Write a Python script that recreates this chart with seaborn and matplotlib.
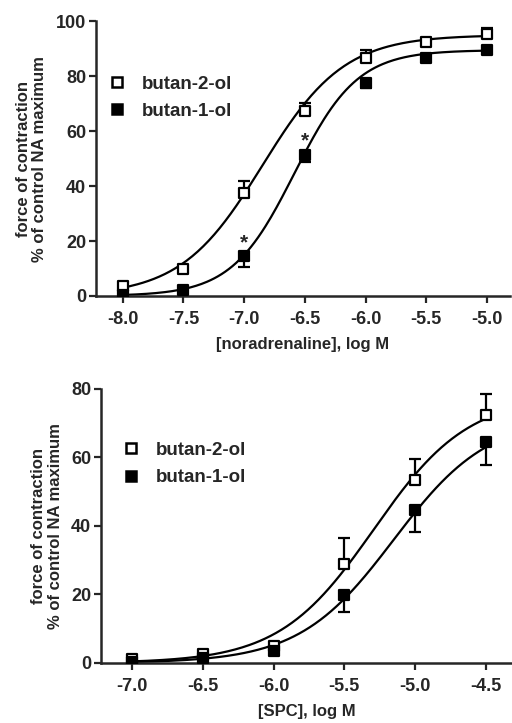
import numpy as np
import pandas as pd
import matplotlib
matplotlib.use("Agg")
import matplotlib.pyplot as plt
import seaborn as sns

sns.set_style("ticks")
plt.rcParams['font.family'] = ['Liberation Sans', 'DejaVu Sans']
plt.rcParams['font.weight'] = 'bold'

# ---- Panel A: noradrenaline ----
na_logM = [-8.0, -7.5, -7.0, -6.5, -6.0, -5.5, -5.0]
na_b2_mean = [3.5, 10.0, 37.5, 67.5, 86.8, 92.5, 95.3]
na_b2_err = [1.0, 1.0, 4.3, 2.8, 2.6, 1.5, 2.2]
na_b1_mean = [0.4, 2.2, 14.6, 51.3, 77.6, 86.7, 89.6]
na_b1_err = [0.5, 0.8, 4.0, 2.7, 2.0, 1.3, 1.0]
# fitted sigmoid parameters (bottom, top, logEC50, hill slope)
na_b2_fit = [0.0, 95.0, -6.85, 1.29]
na_b1_fit = [0.0, 89.5, -6.585, 1.68]
na_stars_x = [-7.0, -6.5]
na_stars_y = [19.5, 56.5]
na_yticks = [0, 20, 40, 60, 80, 100]
na_xticks = [-8.0, -7.5, -7.0, -6.5, -6.0, -5.5, -5.0]

# ---- Panel B: SPC ----
spc_logM = [-7.0, -6.5, -6.0, -5.5, -5.0, -4.5]
spc_b2_mean = [1.2, 2.6, 4.9, 28.8, 53.4, 72.5]
spc_b2_err = [0.5, 0.8, 1.0, 7.8, 6.2, 6.0]
spc_b1_mean = [0.2, 1.6, 3.6, 19.9, 44.7, 64.5]
spc_b1_err = [0.3, 0.5, 0.8, 5.1, 6.4, 6.6]
spc_b2_fit = [0.0, 78.0, -5.292, 1.3]
spc_b1_fit = [0.0, 72.0, -5.151, 1.3]
spc_yticks = [0, 20, 40, 60, 80]
spc_xticks = [-7.0, -6.5, -6.0, -5.5, -5.0, -4.5]

labels = ["butan-2-ol", "butan-1-ol"]
ylabel = "force of contraction\n% of control NA maximum"

TICK_FS = 13
LEG_FS = 13.5
LAB_FS = 12

fig = plt.figure(figsize=(5.12, 7.23), dpi=100)
axA = fig.add_axes([0.187, 0.5906, 0.809, 0.3800])
axB = fig.add_axes([0.197, 0.0830, 0.803, 0.3790])


def hill(x, p):
    b, t, e, h = p
    return b + (t - b) / (1 + 10 ** (h * (e - x)))


def panel(ax, xs, m2, e2, m1, e1, f2, f1, xlim, ylim, xticks, yticks, xlabel, legpos):
    xx = np.linspace(xs[0], xs[-1], 200)
    curves = pd.DataFrame({
        "x": np.concatenate([xx, xx]),
        "y": np.concatenate([hill(xx, f2), hill(xx, f1)]),
        "s": [labels[0]] * len(xx) + [labels[1]] * len(xx),
    })
    sns.lineplot(data=curves, x="x", y="y", units="s", estimator=None,
                 color="black", lw=1.6, ax=ax, legend=False, zorder=2)
    # one-sided error bars: up for open, down for filled
    ax.errorbar(xs, m2, yerr=[np.zeros(len(e2)), e2], fmt="none", ecolor="black",
                elinewidth=1.6, capsize=4, capthick=1.6, zorder=3)
    ax.errorbar(xs, m1, yerr=[e1, np.zeros(len(e1))], fmt="none", ecolor="black",
                elinewidth=1.6, capsize=4, capthick=1.6, zorder=3)
    pts = pd.DataFrame({"x": list(xs) + list(xs), "y": list(m2) + list(m1),
                        "s": [labels[0]] * len(xs) + [labels[1]] * len(xs)})
    sns.scatterplot(data=pts[pts.s == labels[0]], x="x", y="y", marker="s", s=55,
                    facecolor="white", edgecolor="black", linewidth=1.6, ax=ax, zorder=4)
    sns.scatterplot(data=pts[pts.s == labels[1]], x="x", y="y", marker="s", s=55,
                    facecolor="black", edgecolor="black", linewidth=1.6, ax=ax, zorder=5)
    ax.set_xlim(*xlim)
    ax.set_ylim(*ylim)
    ax.set_xticks(xticks)
    ax.set_xticklabels([f"{v:.1f}" for v in xticks], fontsize=TICK_FS, fontweight="bold")
    ax.set_yticks(yticks)
    ax.set_yticklabels([str(v) for v in yticks], fontsize=TICK_FS, fontweight="bold")
    ax.set_xlabel(xlabel, fontsize=LAB_FS, fontweight="bold", labelpad=6)
    ax.set_ylabel(ylabel, fontsize=LAB_FS, fontweight="bold", labelpad=6, linespacing=1.15)
    ax.tick_params(axis="x", direction="out", length=5, width=1.6, pad=6)
    ax.tick_params(axis="y", direction="out", length=5, width=1.6, pad=2)
    for side in ["left", "bottom"]:
        ax.spines[side].set_linewidth(1.8)
    sns.despine(ax=ax)
    ax.spines["left"].set_bounds(ylim[0], yticks[-1])
    # legend
    h_open = plt.Line2D([], [], marker="s", ls="none", ms=6.5, mfc="white", mec="black", mew=1.8)
    h_fill = plt.Line2D([], [], marker="s", ls="none", ms=6.5, mfc="black", mec="black", mew=1.8)
    ax.legend([h_open, h_fill], labels, loc="upper left", bbox_to_anchor=legpos,
              frameon=False, prop={"size": LEG_FS, "weight": "bold"},
              handletextpad=0.8, labelspacing=0.55, borderaxespad=0, handlelength=1.0)


panel(axA, na_logM, na_b2_mean, na_b2_err, na_b1_mean, na_b1_err, na_b2_fit, na_b1_fit,
      (-8.223, -4.81), (0, 100), na_xticks, na_yticks, "[noradrenaline], log M", (0.011, 0.83))
for sx, sy in zip(na_stars_x, na_stars_y):
    axA.text(sx, sy, "*", ha="center", va="center", fontsize=15, fontweight="bold")

panel(axB, spc_logM, spc_b2_mean, spc_b2_err, spc_b1_mean, spc_b1_err, spc_b2_fit, spc_b1_fit,
      (-7.219, -4.316), (0, 80), spc_xticks, spc_yticks, "[SPC], log M", (0.033, 0.835))

fig.savefig("out.png", dpi=100)
